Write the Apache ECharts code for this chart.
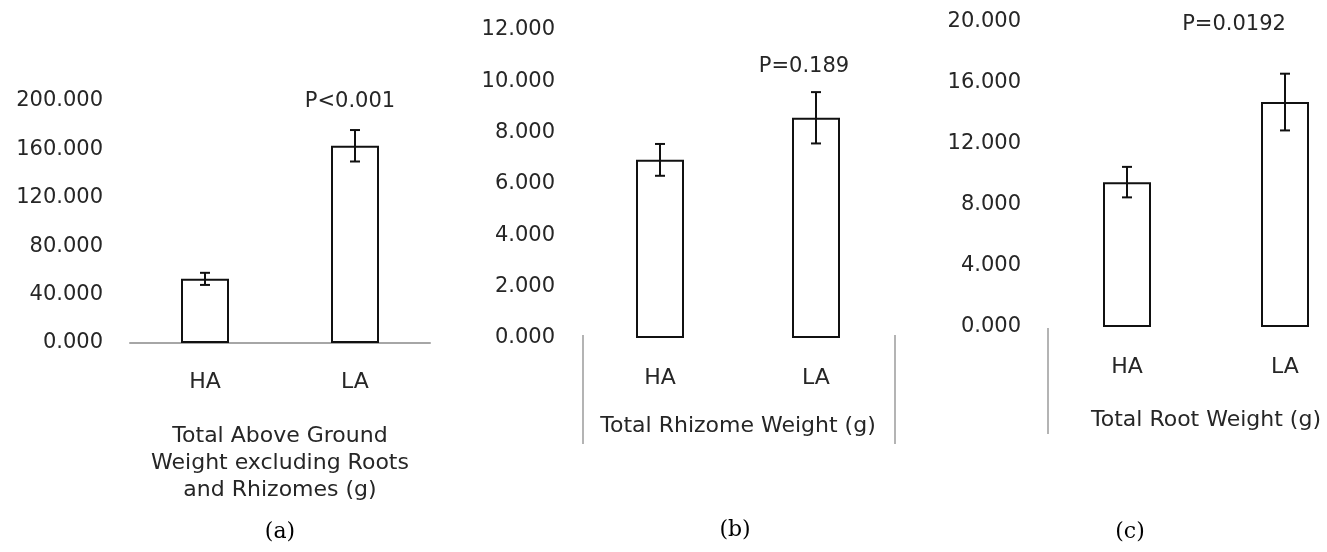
<!DOCTYPE html>
<html>
<head>
<meta charset="utf-8">
<script src="https://cdn.jsdelivr.net/npm/echarts@6/dist/echarts.min.js"></script>
<style>
html,body{margin:0;padding:0;background:#fff;}
#chart{width:1327px;height:552px;}
</style>
</head>
<body>
<div id="chart"></div>
<script>
// ---- data ----
const categories = ['HA', 'LA'];
const aboveMeans = [53, 163];
const aboveErr = [5, 13];
const rhizomeMeans = [6.94, 8.58];
const rhizomeErr = [0.62, 1.0];
const rootMeans = [9.5, 14.75];
const rootErr = [1.0, 1.86];
const pLabels = ['P<0.001', 'P=0.189', 'P=0.0192'];
const axisTitles = [
  'Total Above Ground\nWeight excluding Roots\nand Rhizomes (g)',
  'Total Rhizome Weight (g)',
  'Total Root Weight (g)'
];
const panelLabels = ['(a)', '(b)', '(c)'];
const yMax = [200, 12, 20];
const yStep = [40, 2, 4];

// ---- layout/styles ----
const FONT = 'DejaVu Sans';
const TXT = '#262626';
const grids = [
  {left: 130, top: 101, width: 300, height: 242, outerBoundsMode: 'none', containLabel: false},
  {left: 582, top: 30, width: 312, height: 308, outerBoundsMode: 'none', containLabel: false},
  {left: 1048, top: 22, width: 316, height: 305, outerBoundsMode: 'none', containLabel: false}
];
const nameGaps = [80, 75, 80];
const labelMargins = [28, 29, 29];

const means = [aboveMeans, rhizomeMeans, rootMeans];
const errs = [aboveErr, rhizomeErr, rootErr];

const xAxes = grids.map((g, i) => ({
  type: 'category', gridIndex: i, data: categories,
  boundaryGap: true,
  axisLine: {show: i === 0, lineStyle: {color: '#a6a6a6', width: 2}},
  axisTick: {show: false},
  axisLabel: {color: TXT, fontFamily: FONT, fontSize: 22, margin: labelMargins[i]},
  name: axisTitles[i], nameLocation: 'middle', nameGap: nameGaps[i],
  nameTextStyle: {color: TXT, fontFamily: FONT, fontSize: 22, lineHeight: 27, align: 'center'}
}));
const yAxes = grids.map((g, i) => ({
  type: 'value', gridIndex: i, min: 0, max: yMax[i], interval: yStep[i],
  axisLine: {show: false}, axisTick: {show: false}, splitLine: {show: false},
  axisLabel: {color: TXT, fontFamily: FONT, fontSize: 21, margin: 27,
    formatter: v => v.toFixed(3)}
}));

const series = [];
for (let i = 0; i < 3; i++) {
  series.push({
    type: 'bar', xAxisIndex: i, yAxisIndex: i, barWidth: 48,
    data: means[i],
    itemStyle: {color: '#ffffff', borderColor: '#111', borderWidth: 2},
    z: 2
  });
  series.push({
    type: 'custom', xAxisIndex: i, yAxisIndex: i, z: 5,
    data: means[i].map((m, k) => [k, m, errs[i][k]]),
    renderItem: function (params, api) {
      const x = api.value(0), m = api.value(1), e = api.value(2);
      const hi = api.coord([x, m + e]);
      const lo = api.coord([x, m - e]);
      const w = 5;
      const st = {stroke: '#111', lineWidth: 2};
      return {type: 'group', children: [
        {type: 'line', shape: {x1: hi[0], y1: hi[1], x2: lo[0], y2: lo[1]}, style: st},
        {type: 'line', shape: {x1: hi[0] - w, y1: hi[1], x2: hi[0] + w, y2: hi[1]}, style: st},
        {type: 'line', shape: {x1: lo[0] - w, y1: lo[1], x2: lo[0] + w, y2: lo[1]}, style: st}
      ]};
    }
  });
}

const pPos = [[350, 102], [804, 67], [1234, 25]];
const panelPos = [[280, 532], [735, 530], [1130, 532]];
const graphics = [];
pLabels.forEach((t, i) => graphics.push({
  type: 'text', x: pPos[i][0], y: pPos[i][1],
  style: {text: t, fill: TXT, font: '21px "DejaVu Sans"', align: 'center', verticalAlign: 'middle'}
}));
panelLabels.forEach((t, i) => graphics.push({
  type: 'text', x: panelPos[i][0], y: panelPos[i][1],
  style: {text: t, fill: '#000', font: '22px "DejaVu Serif"', align: 'center', verticalAlign: 'middle'}
}));
// chart frame fragments
[[583, 335, 444], [895, 335, 444], [1048, 328, 434]].forEach(l => graphics.push({
  type: 'line', shape: {x1: l[0], y1: l[1], x2: l[0], y2: l[2]},
  style: {stroke: '#b4b4b4', lineWidth: 2}
}));

const chart = echarts.init(document.getElementById('chart'));
chart.setOption({
  animation: false,
  backgroundColor: '#fff',
  grid: grids,
  xAxis: xAxes,
  yAxis: yAxes,
  series: series,
  graphic: graphics
});
</script>
</body>
</html>
